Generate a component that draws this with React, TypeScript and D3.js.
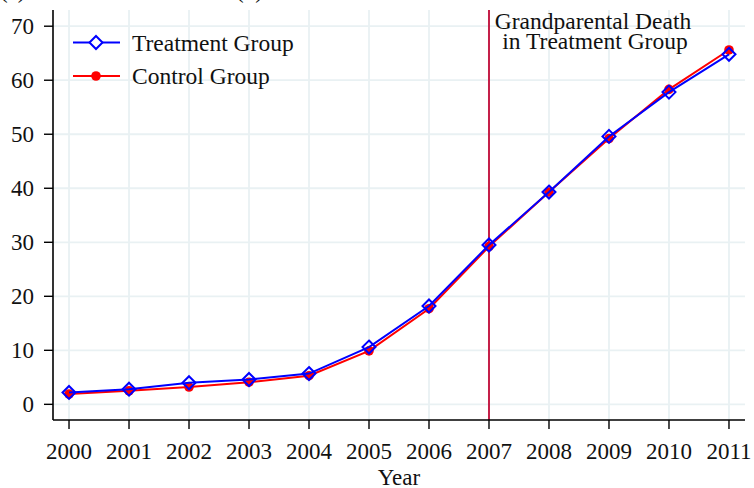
import React from "react";
import * as d3 from "d3";

const years = [2000, 2001, 2002, 2003, 2004, 2005, 2006, 2007, 2008, 2009, 2010, 2011];
const treatment = [2.2, 2.8, 4.0, 4.6, 5.7, 10.6, 18.2, 29.5, 39.3, 49.6, 57.8, 64.8];
const control = [1.9, 2.5, 3.2, 4.1, 5.3, 9.9, 17.7, 29.2, 39.3, 49.2, 58.3, 65.6];
const yTicks = [0, 10, 20, 30, 40, 50, 60, 70];
const eventYear = 2007;
const annotation = ["Grandparental Death", "in Treatment Group"];
const seriesNames = ["Treatment Group", "Control Group"];
const panelLabels = ["(a)", "(b)"];

const W = 754;
const H = 488;
const FONT = "'Liberation Serif', 'Times New Roman', serif";

const App: React.FC = () => {
  const left = 53;
  const right = 745;
  const top = 10;
  const bottom = 420;

  const x = d3.scaleLinear().domain([1999.733, 2011.267]).range([left, right]);
  const y = d3.scaleLinear().domain([-2.9, 73]).range([bottom, top]);

  const line = d3
    .line<number>()
    .x((_, i) => x(years[i]))
    .y((d) => y(d));

  const gridColor = "#e9f1f3";
  const diamond = 6.5;

  return (
    <svg
      width={W}
      height={H}
      viewBox={`0 0 ${W} ${H}`}
      style={{ position: "absolute", left: 0, top: 0, background: "#fff" }}
      fontFamily={FONT}
    >
      {/* cropped panel labels from above */}
      <text x={0} y={-2} fontSize={23} fill="#111">{panelLabels[0]}</text>
      <text x={236} y={-2} fontSize={23} fill="#111">{panelLabels[1]}</text>

      {/* grid */}
      {years.map((yr) => (
        <line key={"gx" + yr} x1={x(yr)} x2={x(yr)} y1={top} y2={bottom} stroke={gridColor} strokeWidth={1.8} />
      ))}
      {yTicks.map((t) => (
        <line key={"gy" + t} x1={left} x2={right} y1={y(t)} y2={y(t)} stroke={gridColor} strokeWidth={1.8} />
      ))}

      {/* event line */}
      <line x1={x(eventYear)} x2={x(eventYear)} y1={top} y2={bottom} stroke="#c41f48" strokeWidth={2} />
      <text x={593} y={29} textAnchor="middle" fontSize={23.5} fill="#111">{annotation[0]}</text>
      <text x={595} y={49} textAnchor="middle" fontSize={23.5} fill="#111">{annotation[1]}</text>

      {/* axes */}
      <line x1={left} x2={left} y1={top} y2={bottom} stroke="#000" strokeWidth={1.6} />
      <line x1={left} x2={right} y1={bottom} y2={bottom} stroke="#000" strokeWidth={1.6} />
      {yTicks.map((t) => (
        <g key={"yt" + t}>
          <line x1={left - 9} x2={left} y1={y(t)} y2={y(t)} stroke="#000" strokeWidth={1.4} />
          <text x={34} y={y(t) + 7.5} textAnchor="end" fontSize={23} fill="#111">{t}</text>
        </g>
      ))}
      {years.map((yr) => (
        <g key={"xt" + yr}>
          <line x1={x(yr)} x2={x(yr)} y1={bottom} y2={bottom + 9} stroke="#000" strokeWidth={1.4} />
          <text x={x(yr)} y={459} textAnchor="middle" fontSize={23} fill="#111">{yr}</text>
        </g>
      ))}
      <text x={399} y={485} textAnchor="middle" fontSize={23} fill="#111">Year</text>

      {/* control series */}
      <path d={line(control) || ""} fill="none" stroke="#ff0000" strokeWidth={2} />
      {control.map((v, i) => (
        <circle key={"c" + i} cx={x(years[i])} cy={y(v)} r={4.8} fill="#ff0000" />
      ))}

      {/* treatment series */}
      <path d={line(treatment) || ""} fill="none" stroke="#0000ff" strokeWidth={2} />
      {treatment.map((v, i) => {
        const cx = x(years[i]);
        const cy = y(v);
        return (
          <path
            key={"t" + i}
            d={`M${cx},${cy - diamond}L${cx + diamond},${cy}L${cx},${cy + diamond}L${cx - diamond},${cy}Z`}
            fill="none"
            stroke="#0000ff"
            strokeWidth={2}
          />
        );
      })}

      {/* legend */}
      <g>
        <line x1={73} x2={120} y1={42.5} y2={42.5} stroke="#0000ff" strokeWidth={2} />
        <path
          d={`M96,${42.5 - diamond}L${96 + diamond},42.5L96,${42.5 + diamond}L${96 - diamond},42.5Z`}
          fill="#fff"
          stroke="#0000ff"
          strokeWidth={2}
        />
        <text x={132} y={50.5} fontSize={23.5} fill="#111">{seriesNames[0]}</text>
        <line x1={73} x2={120} y1={76} y2={76} stroke="#ff0000" strokeWidth={2} />
        <circle cx={96} cy={76} r={4.8} fill="#ff0000" />
        <text x={132} y={84} fontSize={23.5} fill="#111">{seriesNames[1]}</text>
      </g>
    </svg>
  );
};

export default App;
